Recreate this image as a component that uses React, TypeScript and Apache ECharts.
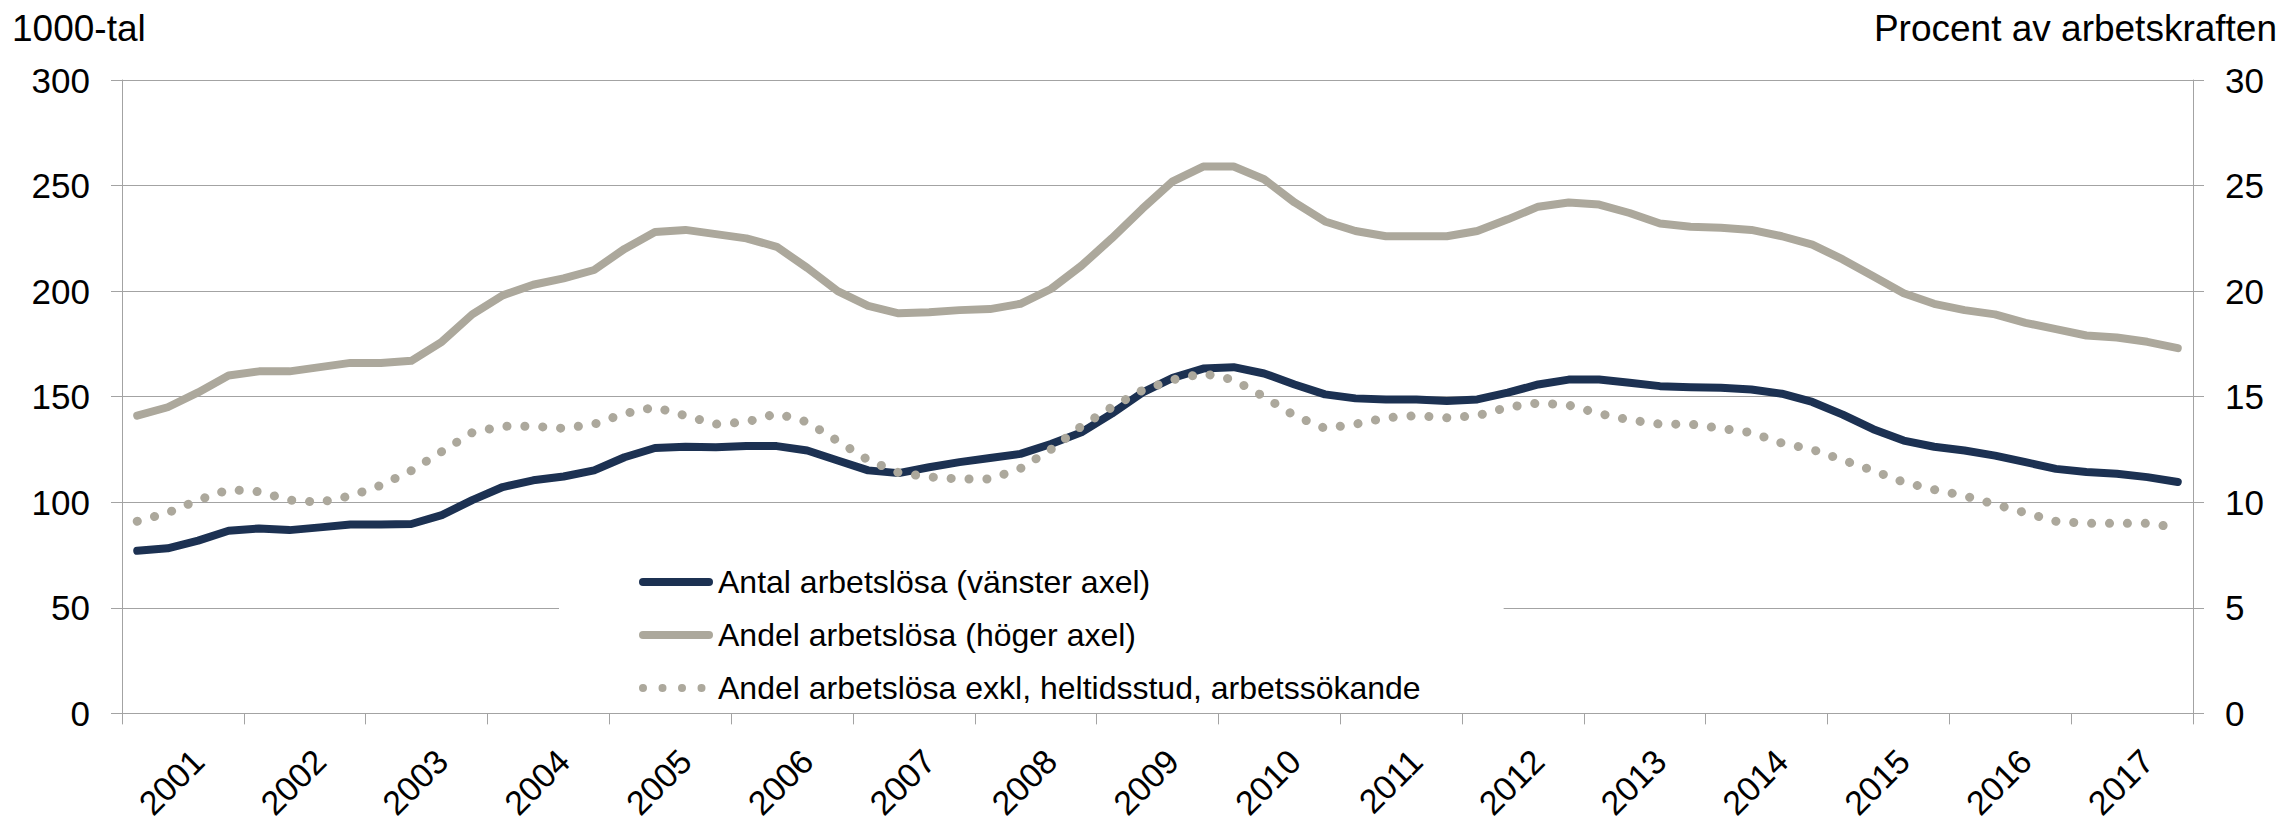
import React, { useEffect, useRef } from 'react';
import * as echarts from 'echarts';

const years = ['2001', '2002', '2003', '2004', '2005', '2006', '2007', '2008', '2009', '2010', '2011', '2012', '2013', '2014', '2015', '2016', '2017'];
const quarterNames = ['K1', 'K2', 'K3', 'K4'];
const quarters = years.flatMap((y) => quarterNames.map((q) => y + q));

// Antal arbetslösa, 1000-tal (vänster axel)
const antal = [
  77.0, 78.2, 81.8, 86.5, 87.6, 86.8, 88.1, 89.5, 89.5, 89.7, 93.9, 101.0,
  107.2, 110.4, 112.2, 115.1, 121.3, 125.7, 126.3, 126.0, 126.6, 126.6, 124.5, 119.8,
  115.1, 113.8, 116.6, 119.0, 121.0, 122.9, 127.6, 133.1, 142.0, 151.9, 158.9, 163.3,
  164.0, 161.0, 155.8, 151.1, 149.2, 148.7, 148.7, 148.0, 148.7, 151.9, 155.8, 158.1,
  158.1, 156.6, 155.0, 154.5, 154.2, 153.4, 151.4, 147.5, 141.5, 134.6, 129.2, 126.3,
  124.5, 122.1, 119.0, 115.8, 114.3, 113.5, 111.9, 109.6,
];

// Andel arbetslösa, procent (höger axel)
const andel = [
  14.1, 14.5, 15.2, 16.0, 16.2, 16.2, 16.4, 16.6, 16.6, 16.7, 17.6, 18.9,
  19.8, 20.3, 20.6, 21.0, 22.0, 22.8, 22.9, 22.7, 22.5, 22.1, 21.1, 20.0,
  19.3, 18.95, 19.0, 19.1, 19.15, 19.4, 20.1, 21.2, 22.5, 23.9, 25.2, 25.9,
  25.9, 25.3, 24.2, 23.3, 22.85, 22.6, 22.6, 22.6, 22.85, 23.4, 24.0, 24.2,
  24.1, 23.7, 23.2, 23.05, 23.0, 22.9, 22.6, 22.2, 21.5, 20.7, 19.9, 19.4,
  19.1, 18.9, 18.5, 18.2, 17.9, 17.8, 17.6, 17.3,
];

// Andel arbetslösa exkl. heltidsstuderande arbetssökande, procent (höger axel)
const andelExkl = [
  9.1, 9.5, 10.1, 10.6, 10.5, 10.1, 10.0, 10.3, 10.8, 11.5, 12.4, 13.3,
  13.6, 13.6, 13.5, 13.7, 14.2, 14.5, 14.1, 13.7, 13.8, 14.2, 13.8, 12.9,
  12.0, 11.4, 11.2, 11.1, 11.1, 11.6, 12.5, 13.6, 14.5, 15.3, 15.8, 16.1,
  15.8, 15.0, 14.1, 13.5, 13.7, 14.0, 14.1, 14.0, 14.1, 14.5, 14.7, 14.6,
  14.2, 13.9, 13.7, 13.7, 13.5, 13.3, 12.8, 12.5, 12.0, 11.5, 10.95, 10.6,
  10.3, 9.9, 9.5, 9.1, 9.0, 9.0, 9.0, 8.8,
];

const seriesNames = [
  'Antal arbetslösa (vänster axel)',
  'Andel arbetslösa (höger axel)',
  'Andel arbetslösa exkl, heltidsstud, arbetssökande',
];

export default function App() {
  const ref = useRef<HTMLDivElement>(null);

  useEffect(() => {
    if (!ref.current) return;
    const chart = echarts.init(ref.current, null, { renderer: 'svg' });
    const font = "'Liberation Sans', Arial, sans-serif";
    const axisGray = '#a3a3a3';
    const navy = '#1c3152';
    const stone = '#aca89c';
    const capsule = 'path://M4,0L70,0A4,4,0,0,1,70,8L4,8A4,4,0,0,1,4,0Z';
    const dots =
      'path://M0,4A4,4,0,1,1,8,4A4,4,0,1,1,0,4Z' +
      'M19.5,4A4,4,0,1,1,27.5,4A4,4,0,1,1,19.5,4Z' +
      'M39,4A4,4,0,1,1,47,4A4,4,0,1,1,39,4Z' +
      'M58.5,4A4,4,0,1,1,66.5,4A4,4,0,1,1,58.5,4Z' +
      'M74,4L74,4.01L73.99,4Z';

    chart.setOption({
      animation: false,
      backgroundColor: '#ffffff',
      textStyle: { fontFamily: font },
      title: [
        {
          text: '1000-tal',
          left: 12,
          top: 10,
          padding: 0,
          textStyle: { fontSize: 37, fontWeight: 'normal', color: '#000', fontFamily: font },
        },
        {
          text: 'Procent av arbetskraften',
          right: 2,
          top: 10,
          padding: 0,
          textStyle: { fontSize: 37, fontWeight: 'normal', color: '#000', fontFamily: font },
        },
      ],
      grid: { left: 122, right: 86, top: 80, bottom: 105, containLabel: false },
      legend: {
        orient: 'vertical',
        left: 559,
        top: 530,
        padding: [36, 83, 8, 80],
        backgroundColor: '#ffffff',
        itemWidth: 74,
        itemHeight: 8,
        itemGap: 21,
        selectedMode: false,
        itemStyle: { borderWidth: 0 },
        textStyle: { fontSize: 32, lineHeight: 32, color: '#000', fontFamily: font },
        data: [
          { name: seriesNames[0], icon: capsule, itemStyle: { color: navy, borderWidth: 0 } },
          { name: seriesNames[1], icon: capsule, itemStyle: { color: stone, borderWidth: 0 } },
          { name: seriesNames[2], icon: dots, itemStyle: { color: stone, borderWidth: 0 } },
        ],
      },
      xAxis: {
        type: 'category',
        data: quarters,
        boundaryGap: true,
        z: 6,
        axisLine: { show: true, lineStyle: { color: axisGray, width: 1 } },
        axisTick: { show: true, interval: 3, length: 11, lineStyle: { color: axisGray, width: 1 } },
        axisLabel: {
          interval: (i: number) => i % 4 === 2,
          formatter: (v: string) => v.slice(0, 4),
          rotate: 45,
          margin: 42,
          fontSize: 34,
          color: '#000',
          fontFamily: font,
        },
        splitLine: { show: false },
      },
      yAxis: [
        {
          type: 'value',
          position: 'left',
          min: 0,
          max: 300,
          interval: 50,
          axisLine: { show: true, lineStyle: { color: axisGray, width: 1 } },
          axisTick: { show: true, length: 11, lineStyle: { color: axisGray, width: 1 } },
          axisLabel: { fontSize: 35, margin: 32, color: '#000', fontFamily: font },
          splitLine: { show: true, lineStyle: { color: axisGray, width: 1 } },
        },
        {
          type: 'value',
          position: 'right',
          min: 0,
          max: 30,
          interval: 5,
          axisLine: { show: true, lineStyle: { color: axisGray, width: 1 } },
          axisTick: { show: true, length: 11, lineStyle: { color: axisGray, width: 1 } },
          axisLabel: { fontSize: 35, margin: 32, color: '#000', fontFamily: font },
          splitLine: { show: false },
        },
      ],
      series: [
        {
          name: seriesNames[0],
          type: 'line',
          yAxisIndex: 0,
          data: antal,
          symbol: 'none',
          showSymbol: false,
          color: navy,
          lineStyle: { color: navy, width: 8, cap: 'round', join: 'round' },
          z: 2,
        },
        {
          name: seriesNames[1],
          type: 'line',
          yAxisIndex: 1,
          data: andel,
          symbol: 'none',
          showSymbol: false,
          color: stone,
          lineStyle: { color: stone, width: 8, cap: 'round', join: 'round' },
          z: 3,
        },
        {
          name: seriesNames[2],
          type: 'line',
          yAxisIndex: 1,
          data: andelExkl,
          symbol: 'none',
          showSymbol: false,
          color: stone,
          lineStyle: { color: stone, width: 9, type: [0.1, 17.8], cap: 'round', join: 'round' },
          z: 4,
        },
      ],
    });

    return () => chart.dispose();
  }, []);

  return (
    <div
      ref={ref}
      style={{ position: 'fixed', left: 0, top: 0, width: 2279, height: 823, background: '#fff' }}
    />
  );
}
